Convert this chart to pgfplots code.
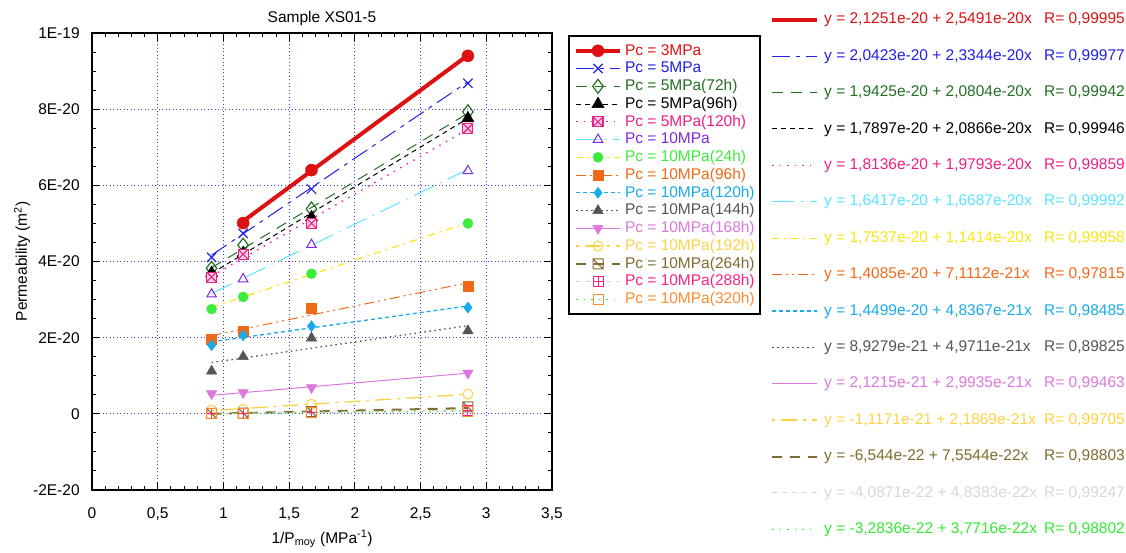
\documentclass[border=0pt]{standalone}
\usepackage{pgfplots}
\pgfplotsset{compat=1.18}
\usepackage{pgfplotstable}
\usepackage{fontspec}
\setmainfont{Liberation Sans}
\usetikzlibrary{plotmarks}

\definecolor{cRed}{RGB}{221,17,17}
\definecolor{cBlue}{RGB}{32,32,230}
\definecolor{cDGreen}{RGB}{34,112,34}
\definecolor{cPink}{RGB}{236,32,134}
\definecolor{cPurple}{RGB}{130,40,225}
\definecolor{cCyan}{RGB}{90,228,255}
\definecolor{cGreen}{RGB}{60,235,60}
\definecolor{cYellow}{RGB}{250,228,20}
\definecolor{cOrange}{RGB}{240,105,25}
\definecolor{cSky}{RGB}{25,170,235}
\definecolor{cGray}{RGB}{85,85,85}
\definecolor{cOrchid}{RGB}{220,120,220}
\definecolor{cGold}{RGB}{255,210,70}
\definecolor{cOlive}{RGB}{128,108,48}
\definecolor{cHotPink}{RGB}{255,35,125}
\definecolor{cLtOrange}{RGB}{255,140,50}
\definecolor{cLtGray}{RGB}{215,215,215}
\definecolor{cLGreen}{RGB}{50,235,50}
\definecolor{cGrid}{RGB}{60,60,220}

\pgfdeclareplotmark{boxx}{%
  \pgfpathrectangle{\pgfpoint{-\pgfplotmarksize}{-\pgfplotmarksize}}{\pgfpoint{2\pgfplotmarksize}{2\pgfplotmarksize}}%
  \pgfusepathqfillstroke
  \pgfpathmoveto{\pgfpoint{-\pgfplotmarksize}{-\pgfplotmarksize}}%
  \pgfpathlineto{\pgfpoint{\pgfplotmarksize}{\pgfplotmarksize}}%
  \pgfpathmoveto{\pgfpoint{-\pgfplotmarksize}{\pgfplotmarksize}}%
  \pgfpathlineto{\pgfpoint{\pgfplotmarksize}{-\pgfplotmarksize}}%
  \pgfusepathqstroke}
\pgfdeclareplotmark{boxslash}{%
  \pgfpathrectangle{\pgfpoint{-\pgfplotmarksize}{-\pgfplotmarksize}}{\pgfpoint{2\pgfplotmarksize}{2\pgfplotmarksize}}%
  \pgfpathmoveto{\pgfpoint{-\pgfplotmarksize}{\pgfplotmarksize}}%
  \pgfpathlineto{\pgfpoint{\pgfplotmarksize}{-\pgfplotmarksize}}%
  \pgfusepathqstroke}
\pgfdeclareplotmark{boxplus}{%
  \pgfpathrectangle{\pgfpoint{-\pgfplotmarksize}{-\pgfplotmarksize}}{\pgfpoint{2\pgfplotmarksize}{2\pgfplotmarksize}}%
  \pgfpathmoveto{\pgfpoint{0pt}{-\pgfplotmarksize}}%
  \pgfpathlineto{\pgfpoint{0pt}{\pgfplotmarksize}}%
  \pgfpathmoveto{\pgfpoint{-\pgfplotmarksize}{0pt}}%
  \pgfpathlineto{\pgfpoint{\pgfplotmarksize}{0pt}}%
  \pgfusepathqstroke}

\tikzset{
  fitA/.style={cRed, line width=4bp, solid},
  fitB/.style={cBlue, line width=1bp, dash pattern=on 18bp off 6bp on 4bp off 6bp},
  fitC/.style={cDGreen, line width=1bp, dash pattern=on 11bp off 8bp},
  fitD/.style={black, line width=1bp, dash pattern=on 5bp off 4bp},
  fitE/.style={cPink, line width=1.3bp, dash pattern=on 1.5bp off 6bp},
  fitF/.style={cCyan, line width=1bp, dash pattern=on 22bp off 7bp on 1.5bp off 7bp},
  fitG/.style={cYellow, line width=1.2bp, dash pattern=on 7bp off 5bp on 2bp off 5bp},
  fitH/.style={cOrange, line width=1bp, dash pattern=on 10bp off 4bp on 2bp off 4bp on 2bp off 4bp},
  fitI/.style={cSky, line width=1.3bp, dash pattern=on 4bp off 3bp},
  fitJ/.style={cGray, line width=1.3bp, dash pattern=on 1.5bp off 3.5bp},
  fitK/.style={cOrchid, line width=1bp, solid},
  fitL/.style={cGold, line width=1.3bp, dash pattern=on 3bp off 6bp on 16bp off 6bp},
  fitM/.style={cOlive, line width=2bp, dash pattern=on 10bp off 8bp},
  fitN/.style={cLtGray, line width=1bp, dash pattern=on 5bp off 5bp},
  fitO/.style={cLGreen, line width=1.3bp, dash pattern=on 1.5bp off 6bp},
  mA/.style={mark=*, mark size=6bp, mark options={solid, draw=cRed, fill=cRed, line width=0.5bp}},
  mB/.style={mark=x, mark size=6.5bp, mark options={solid, draw=cBlue, line width=1.2bp}},
  mC/.style={mark=diamond, mark size=7bp, mark options={solid, draw=cDGreen, fill=white, line width=1.2bp}},
  mD/.style={mark=triangle*, mark size=7bp, mark options={solid, draw=black, fill=black, line width=0.5bp}},
  mE/.style={mark=boxx, mark size=5bp, mark options={solid, draw=cPink, fill=cPink!20, line width=1.1bp}},
  mF/.style={mark=triangle, mark size=5.5bp, mark options={solid, draw=cPurple, fill=white, line width=1bp}},
  mG/.style={mark=*, mark size=5bp, mark options={solid, draw=cGreen, fill=cGreen, line width=0.5bp}},
  mH/.style={mark=square*, mark size=5bp, mark options={solid, draw=cOrange, fill=cOrange, line width=0.5bp}},
  mI/.style={mark=diamond*, mark size=5.5bp, mark options={solid, draw=cSky, fill=cSky, line width=0.5bp}},
  mJ/.style={mark=triangle*, mark size=6bp, mark options={solid, draw=cGray, fill=cGray, line width=0.5bp}},
  mK/.style={mark=triangle*, mark size=6bp, mark options={solid, rotate=180, draw=cOrchid, fill=cOrchid, line width=0.5bp}},
  mL/.style={mark=o, mark size=5bp, mark options={solid, draw=cGold, fill=white, line width=1bp}},
  mM/.style={mark=boxslash, mark size=5bp, mark options={solid, draw=cOlive, fill=white, line width=1bp}},
  mN/.style={mark=boxplus, mark size=5bp, mark options={solid, draw=cHotPink, fill=white, line width=1bp}},
  mO/.style={mark=square, mark size=5bp, mark options={solid, draw=cLtOrange, fill=white, line width=1bp}},
}

\pgfplotstableread{
x    s1   s2   s3   s4   s5   s6   s7   s8   s9   s10  s11  s12  s13  s14  s15
0.91 nan  4.11 3.82 3.70 3.59 3.14 2.75 1.97 1.80 1.12 0.53 0.10 0.01 0.00 0.00
1.15 5.01 4.74 4.43 4.22 4.19 3.54 3.07 2.18 2.06 1.50 0.56 0.12 0.02 0.01 0.01
1.67 6.40 5.90 5.38 5.16 5.00 4.44 3.68 2.78 2.30 1.99 0.69 0.25 0.06 0.04 0.03
2.86 9.40 8.68 7.93 7.76 7.49 6.38 5.00 3.36 2.79 2.18 1.07 0.52 0.18 0.10 0.07
}\data

\newcommand{\eqtext}[2]{\makebox[220bp][l]{#1}#2}

\begin{document}
\fontsize{15.5bp}{18bp}\selectfont
\begin{tikzpicture}
\useasboundingbox (0,0) rectangle (1126bp,553bp);
\begin{axis}[
  at={(92bp,63bp)}, anchor=south west,
  scale only axis, width=460bp, height=457bp,
  xmin=0, xmax=3.5, ymin=-2, ymax=10,
  xtick={0,0.5,1,1.5,2,2.5,3,3.5},
  xticklabels={0,{0,5},1,{1,5},2,{2,5},3,{3,5}},
  ytick={-2,0,2,4,6,8,10},
  yticklabels={-2E-20,0,2E-20,4E-20,6E-20,8E-20,1E-19},
  minor x tick num=4, minor y tick num=3,
  tick pos=both, tick align=inside,
  major tick length=8bp, minor tick length=4bp,
  every tick/.style={black, line width=1bp},
  grid=major,
  major grid style={draw=cGrid, dash pattern=on 1.2bp off 2.3bp, line width=1.1bp},
  axis line style={line width=1.2bp},
  xticklabel style={yshift=-12bp},
  yticklabel style={xshift=-7bp},
  title={Sample XS01-5},
  title style={at={(axis description cs:0.5,1)}, anchor=south, yshift=-4bp},
  xlabel={1/P\textsubscript{moy} (MPa\textsuperscript{-1})},
  xlabel style={at={(axis description cs:0.5,0)}, anchor=base, yshift=-53bp},
  ylabel={Permeability (m\textsuperscript{2})},
  ylabel style={at={(axis description cs:-0.152,0.5)}, anchor=center},
  unbounded coords=discard,
  legend cell align=left,
  legend image code/.code={\draw[mark repeat=2,mark phase=2,#1] plot coordinates {(0bp,0bp)(22bp,0bp)(44bp,0bp)};},
  legend style={at={(axis description cs:1.0348,0.9956)}, anchor=north west, draw=black, line width=2bp, fill=white,
    inner xsep=5bp, inner ysep=7.5bp, row sep=3.26bp, column sep=3bp,
    nodes={inner sep=0pt, text height=11.5bp, text depth=3bp}},
]
% fitted lines
\addplot[fitA, forget plot] coordinates {(1.15,5.0566) (2.86,9.4155)};
\addplot[fitB, forget plot] coordinates {(0.91,4.1666) (2.86,8.7187)};
\addplot[fitC, forget plot] coordinates {(0.91,3.8357) (2.86,7.8924)};
\addplot[fitD, forget plot] coordinates {(0.91,3.6885) (2.86,7.7574)};
\addplot[fitE, forget plot] coordinates {(0.91,3.6148) (2.86,7.4744)};
\addplot[fitF, forget plot] coordinates {(0.91,3.1602) (2.86,6.4142)};
\addplot[fitG, forget plot] coordinates {(0.91,2.7924) (2.86,5.0181)};
\addplot[fitH, forget plot] coordinates {(0.91,2.0556) (2.86,3.4423)};
\addplot[fitI, forget plot] coordinates {(0.91,1.8900) (2.86,2.8332)};
\addplot[fitJ, forget plot] coordinates {(0.91,1.3452) (2.86,2.3145)};
\addplot[fitK, forget plot] coordinates {(0.91,0.4846) (2.86,1.0683)};
\addplot[fitL, forget plot] coordinates {(0.91,0.0873) (2.86,0.5138)};
\addplot[fitM, forget plot] coordinates {(0.91,0.0033) (2.86,0.1506)};
\addplot[fitN, forget plot] coordinates {(0.91,0.0031) (2.86,0.0975)};
\addplot[fitO, forget plot] coordinates {(0.91,0.0015) (2.86,0.0750)};
% data
\addplot[only marks, mA, forget plot] table[x=x,y=s1] {\data};
\addplot[only marks, mB, forget plot] table[x=x,y=s2] {\data};
\addplot[only marks, mC, forget plot] table[x=x,y=s3] {\data};
\addplot[only marks, mD, forget plot] table[x=x,y=s4] {\data};
\addplot[only marks, mE, forget plot] table[x=x,y=s5] {\data};
\addplot[only marks, mF, forget plot] table[x=x,y=s6] {\data};
\addplot[only marks, mG, forget plot] table[x=x,y=s7] {\data};
\addplot[only marks, mH, forget plot] table[x=x,y=s8] {\data};
\addplot[only marks, mI, forget plot] table[x=x,y=s9] {\data};
\addplot[only marks, mJ, forget plot] table[x=x,y=s10] {\data};
\addplot[only marks, mK, forget plot] table[x=x,y=s11] {\data};
\addplot[only marks, mL, forget plot] table[x=x,y=s12] {\data};
\addplot[only marks, mM, forget plot] table[x=x,y=s13] {\data};
\addplot[only marks, mN, forget plot] table[x=x,y=s14] {\data};
\addplot[only marks, mO, forget plot] table[x=x,y=s15] {\data};
% legend
\addlegendimage{fitA, mA}\addlegendentry{\textcolor{cRed}{Pc = 3MPa}}
\addlegendimage{fitB, mB}\addlegendentry{\textcolor{cBlue}{Pc = 5MPa}}
\addlegendimage{fitC, mC}\addlegendentry{\textcolor{cDGreen}{Pc = 5MPa(72h)}}
\addlegendimage{fitD, mD}\addlegendentry{\textcolor{black}{Pc = 5MPa(96h)}}
\addlegendimage{fitE, mE}\addlegendentry{\textcolor{cPink}{Pc = 5MPa(120h)}}
\addlegendimage{fitF, mF}\addlegendentry{\textcolor{cPurple}{Pc = 10MPa}}
\addlegendimage{fitG, mG}\addlegendentry{\textcolor{cGreen}{Pc = 10MPa(24h)}}
\addlegendimage{fitH, mH}\addlegendentry{\textcolor{cOrange}{Pc = 10MPa(96h)}}
\addlegendimage{fitI, mI}\addlegendentry{\textcolor{cSky}{Pc = 10MPa(120h)}}
\addlegendimage{fitJ, mJ}\addlegendentry{\textcolor{cGray}{Pc = 10MPa(144h)}}
\addlegendimage{fitK, mK}\addlegendentry{\textcolor{cOrchid}{Pc = 10MPa(168h)}}
\addlegendimage{fitL, mL}\addlegendentry{\textcolor{cGold}{Pc = 10MPa(192h)}}
\addlegendimage{fitM, mM}\addlegendentry{\textcolor{cOlive}{Pc = 10MPa(264h)}}
\addlegendimage{fitN, mN}\addlegendentry{\textcolor{cHotPink}{Pc = 10MPa(288h)}}
\addlegendimage{fitO, mO}\addlegendentry{\textcolor{cLtOrange}{Pc = 10MPa(320h)}}
\end{axis}

\begin{axis}[
  at={(92bp,63bp)}, anchor=south west,
  scale only axis, width=460bp, height=457bp,
  hide axis, xmin=0, xmax=1, ymin=0, ymax=1,
  legend cell align=left,
  legend image code/.code={\draw[#1] (0bp,0bp) -- (45bp,0bp);},
  legend style={at={(axis description cs:1.4739,1.0453)}, anchor=north west, draw=none, fill=none,
    inner sep=0pt, row sep=21.9bp, column sep=5bp,
    nodes={inner sep=0pt, text height=11.5bp, text depth=3bp}},
]
\addlegendimage{fitA}\addlegendentry{\textcolor{cRed}{\eqtext{y = 2,1251e-20 + 2,5491e-20x}{R= 0,99995}}}
\addlegendimage{fitB}\addlegendentry{\textcolor{cBlue}{\eqtext{y = 2,0423e-20 + 2,3344e-20x}{R= 0,99977}}}
\addlegendimage{fitC}\addlegendentry{\textcolor{cDGreen}{\eqtext{y = 1,9425e-20 + 2,0804e-20x}{R= 0,99942}}}
\addlegendimage{fitD}\addlegendentry{\textcolor{black}{\eqtext{y = 1,7897e-20 + 2,0866e-20x}{R= 0,99946}}}
\addlegendimage{fitE}\addlegendentry{\textcolor{cPink}{\eqtext{y = 1,8136e-20 + 1,9793e-20x}{R= 0,99859}}}
\addlegendimage{fitF}\addlegendentry{\textcolor{cCyan}{\eqtext{y = 1,6417e-20 + 1,6687e-20x}{R= 0,99992}}}
\addlegendimage{fitG}\addlegendentry{\textcolor{cYellow}{\eqtext{y = 1,7537e-20 + 1,1414e-20x}{R= 0,99958}}}
\addlegendimage{fitH}\addlegendentry{\textcolor{cOrange}{\eqtext{y = 1,4085e-20 + 7,1112e-21x}{R= 0,97815}}}
\addlegendimage{fitI}\addlegendentry{\textcolor{cSky}{\eqtext{y = 1,4499e-20 + 4,8367e-21x}{R= 0,98485}}}
\addlegendimage{fitJ}\addlegendentry{\textcolor{cGray}{\eqtext{y = 8,9279e-21 + 4,9711e-21x}{R= 0,89825}}}
\addlegendimage{fitK}\addlegendentry{\textcolor{cOrchid}{\eqtext{y = 2,1215e-21 + 2,9935e-21x}{R= 0,99463}}}
\addlegendimage{fitL}\addlegendentry{\textcolor{cGold}{\eqtext{y = -1,1171e-21 + 2,1869e-21x}{R= 0,99705}}}
\addlegendimage{fitM}\addlegendentry{\textcolor{cOlive}{\eqtext{y = -6,544e-22 + 7,5544e-22x}{R= 0,98803}}}
\addlegendimage{fitN}\addlegendentry{\textcolor{cLtGray}{\eqtext{y = -4,0871e-22 + 4,8383e-22x}{R= 0,99247}}}
\addlegendimage{fitO}\addlegendentry{\textcolor{cLGreen}{\eqtext{y = -3,2836e-22 + 3,7716e-22x}{R= 0,98802}}}
\end{axis}
\end{tikzpicture}
\end{document}
